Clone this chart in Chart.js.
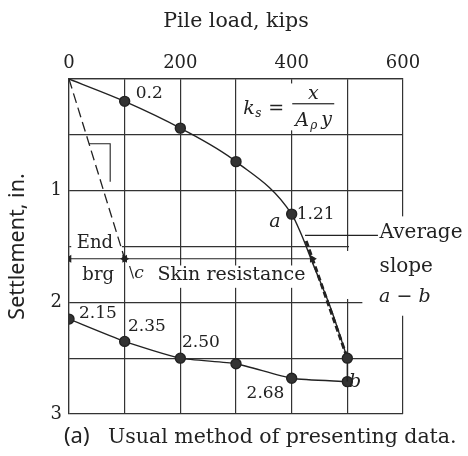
<!DOCTYPE html>
<html>
<head>
<meta charset="utf-8">
<script src="https://cdn.jsdelivr.net/npm/chart.js@4.4.1/dist/chart.umd.min.js"></script>
<style>
    html, body { margin: 0; padding: 0; background: #fff; }
    #wrap { width: 468px; height: 456px; }
</style>
</head>
<body>
<div id="wrap"><canvas id="pileChart"></canvas></div>
<script>
// Load test: loading branch (kips, in.)
const loadUp = [0, 100, 200, 300, 400, 418, 437, 470, 500];
const settleUp = [0, 0.2, 0.44, 0.74, 1.21, 1.40, 1.64, 2.05, 2.5];
const markUp = [false, true, true, true, true, false, false, false, true];

// Rebound branch, starting at point b
const loadDown = [500, 400, 300, 200, 100, 0];
const settleDown = [2.71, 2.68, 2.55, 2.50, 2.35, 2.15];

// End bearing line (origin to c) and its slope triangle
const endBrgLoad = [0, 100];
const endBrgSettle = [0, 1.61];
const triLoad = [36, 74, 74];
const triSettle = [0.58, 0.58, 0.92];

// Average slope a - b
const avgLoad = [426, 500];
const avgSettle = [1.45, 2.5];

// Dimension line: end bearing | skin resistance
const dimSettle = 1.61;
const dimLoad = [0, 100, 437];

const loadTicks = [0, 200, 400, 600];
const settleTicks = [1, 2, 3];

const INK = '#222';
const SERIF = '"DejaVu Serif", "Liberation Serif", serif';
const SANS = '"Noto Sans", "DejaVu Sans", sans-serif';

function pts(xs, ys) {
    return xs.map((x, i) => ({ x: x, y: ys[i] }));
}

function lineSet(data, extra) {
    return Object.assign({
        data: data,
        showLine: true,
        borderColor: INK,
        borderWidth: 1.4,
        pointRadius: 0,
        fill: false
    }, extra || {});
}

// White patches where the grid is broken by lettering
const gridGaps = [
    [307, 491, 0.04, 0.46],   // formula
    [4, 95, 1.41, 1.53],      // End
    [146, 437, 1.67, 1.87],   // Skin resistance
    [503, 606, 1.475, 1.53],  // 1.5 line right end
    [597, 608, 1.23, 2.12],   // right edge beside the note
    [495, 506, 1.54, 1.97],   // 500 line
    [527, 606, 1.97, 2.03]    // 2.0 line right end
];

const gapPlugin = {
    id: 'gaps',
    beforeDatasetsDraw(chart) {
        const ctx = chart.ctx, xs = chart.scales.x, ys = chart.scales.y;
        ctx.save();
        ctx.fillStyle = '#fff';
        gridGaps.forEach(g => {
            const x0 = xs.getPixelForValue(g[0]), x1 = xs.getPixelForValue(g[1]);
            const y0 = ys.getPixelForValue(g[2]), y1 = ys.getPixelForValue(g[3]);
            ctx.fillRect(x0, y0, x1 - x0, y1 - y0);
        });
        ctx.restore();
    }
};

function txt(ctx, s, x, y, size, opts) {
    opts = opts || {};
    ctx.font = (opts.italic ? 'italic ' : '') + size + 'px ' + (opts.family || SERIF);
    ctx.textAlign = opts.align || 'left';
    ctx.textBaseline = 'middle';
    ctx.fillText(s, x, y);
    return ctx.measureText(s).width;
}

// Value labels and notes
const notePlugin = {
    id: 'notes',
    afterDatasetsDraw(chart) {
        const ctx = chart.ctx, xs = chart.scales.x, ys = chart.scales.y;
        const X = v => xs.getPixelForValue(v), Y = v => ys.getPixelForValue(v);
        ctx.save();
        ctx.fillStyle = INK;

        txt(ctx, settleUp[1].toFixed(1), X(120), Y(0.13), 17);
        txt(ctx, settleUp[4].toFixed(2), X(409), Y(1.21), 17);
        txt(ctx, 'a', X(370), Y(1.28), 19, { italic: true, align: 'center' });
        txt(ctx, settleDown[5].toFixed(2), X(18), Y(2.1), 17);
        txt(ctx, settleDown[4].toFixed(2), X(106), Y(2.22), 17);
        txt(ctx, settleDown[3].toFixed(2), X(203), Y(2.36), 17);
        txt(ctx, settleDown[1].toFixed(2), X(319), Y(2.82), 17);
        txt(ctx, 'b', X(514), Y(2.71), 19, { italic: true, align: 'center' });

        txt(ctx, 'End', X(14), Y(1.47), 18);
        txt(ctx, 'brg', X(24), Y(1.76), 18);
        let w = txt(ctx, '\\', X(108), Y(1.74), 15);
        txt(ctx, 'c', X(108) + w, Y(1.74), 17, { italic: true });
        txt(ctx, 'Skin resistance', X(159), Y(1.76), 19);

        txt(ctx, 'Average', X(558), Y(1.38), 20);
        txt(ctx, 'slope', X(558), Y(1.68), 20);
        let ax = X(557);
        ax += txt(ctx, 'a', ax, Y(1.95), 19, { italic: true });
        ax += txt(ctx, ' \u2212 ', ax, Y(1.95), 19);
        txt(ctx, 'b', ax, Y(1.95), 19, { italic: true });

        // k_s = x / (A_p y)
        const fx = X(313), fy = Y(0.27);
        txt(ctx, 'k', fx, fy, 19, { italic: true });
        txt(ctx, 's', fx + 12, fy + 5, 12, { italic: true });
        txt(ctx, '=', fx + 25, fy, 19);
        txt(ctx, 'x', fx + 70, fy - 15, 19, { italic: true, align: 'center' });
        ctx.fillRect(fx + 49, fy - 6, 42, 1.2);
        txt(ctx, 'A', fx + 52, fy + 12, 19, { italic: true });
        txt(ctx, '\u03c1', fx + 67, fy + 17, 12, { italic: true });
        txt(ctx, 'y', fx + 78, fy + 11, 19, { italic: true });

        // caption
        const cy = 437;
        txt(ctx, '(a)', 64, cy, 22, { family: SANS });
        txt(ctx, 'Usual method of presenting data.', 108, cy + 1, 20.5);
        ctx.restore();
    }
};

const ctx = document.getElementById('pileChart').getContext('2d');
const chart = new Chart(ctx, {
    type: 'scatter',
    data: {
        datasets: [
            // loading branch
            lineSet(pts(loadUp, settleUp), {
                cubicInterpolationMode: 'monotone',
                pointRadius: markUp.map(m => m ? 5 : 0),
                pointBackgroundColor: '#333',
                pointBorderColor: INK
            }),
            // drop from last load step to b
            lineSet([{ x: loadUp[loadUp.length - 1], y: settleUp[settleUp.length - 1] },
                     { x: loadDown[0], y: settleDown[0] }]),
            // rebound branch
            lineSet(pts(loadDown, settleDown), {
                tension: 0.2,
                pointRadius: 5,
                pointBackgroundColor: '#333',
                pointBorderColor: INK
            }),
            lineSet(pts(endBrgLoad, endBrgSettle), { borderDash: [10, 5], borderWidth: 1.3 }),
            lineSet(pts(triLoad, triSettle), { borderWidth: 1.1 }),
            lineSet(pts(avgLoad, avgSettle), { borderDash: [6, 3], borderWidth: 3 }),
            // dimension arrows
            lineSet(pts([dimLoad[0], dimLoad[1]], [dimSettle, dimSettle]), {
                borderWidth: 1.1,
                pointStyle: 'triangle',
                pointRadius: 3.5,
                pointRotation: [270, 90],
                pointBackgroundColor: INK,
                pointBorderColor: INK
            }),
            lineSet(pts([dimLoad[1], dimLoad[2]], [dimSettle, dimSettle]), {
                borderWidth: 1.1,
                pointStyle: 'triangle',
                pointRadius: 3.5,
                pointRotation: [270, 90],
                pointBackgroundColor: INK,
                pointBorderColor: INK
            }),
            // leader to the average slope note
            lineSet(pts([424, 555], [1.40, 1.40]), { borderWidth: 1.1 })
        ]
    },
    options: {
        responsive: true,
        maintainAspectRatio: false,
        animation: false,
        layout: { padding: { left: 0, top: 0, right: 65, bottom: 42 } },
        plugins: {
            legend: { display: false },
            tooltip: { enabled: false }
        },
        scales: {
            x: {
                type: 'linear',
                position: 'top',
                min: 0,
                max: 600,
                afterFit: s => { s.height = 79; },
                ticks: {
                    stepSize: 100,
                    padding: 5,
                    color: INK,
                    font: { family: SERIF, size: 18 },
                    callback: v => loadTicks.includes(v) ? String(v) : ''
                },
                grid: { color: '#333', lineWidth: 1.2, drawTicks: false },
                border: { display: true, color: '#333', width: 1.2 },
                title: {
                    display: true,
                    text: 'Pile load, kips',
                    color: INK,
                    font: { family: SERIF, size: 20.5 },
                    padding: { top: 9, bottom: 0 }
                }
            },
            y: {
                type: 'linear',
                reverse: true,
                min: 0,
                max: 3,
                afterFit: s => { s.width = 69; },
                ticks: {
                    stepSize: 0.5,
                    padding: 7,
                    color: INK,
                    font: { family: SERIF, size: 18 },
                    callback: v => settleTicks.includes(v) ? String(v) : ''
                },
                grid: { color: '#333', lineWidth: 1.2, drawTicks: false },
                border: { display: true, color: '#333', width: 1.2 },
                title: {
                    display: true,
                    text: 'Settlement, in.',
                    color: INK,
                    font: { family: SANS, size: 21.5 },
                    padding: { top: 5, bottom: 0 }
                }
            }
        }
    },
    plugins: [gapPlugin, notePlugin]
});
</script>
</body>
</html>
